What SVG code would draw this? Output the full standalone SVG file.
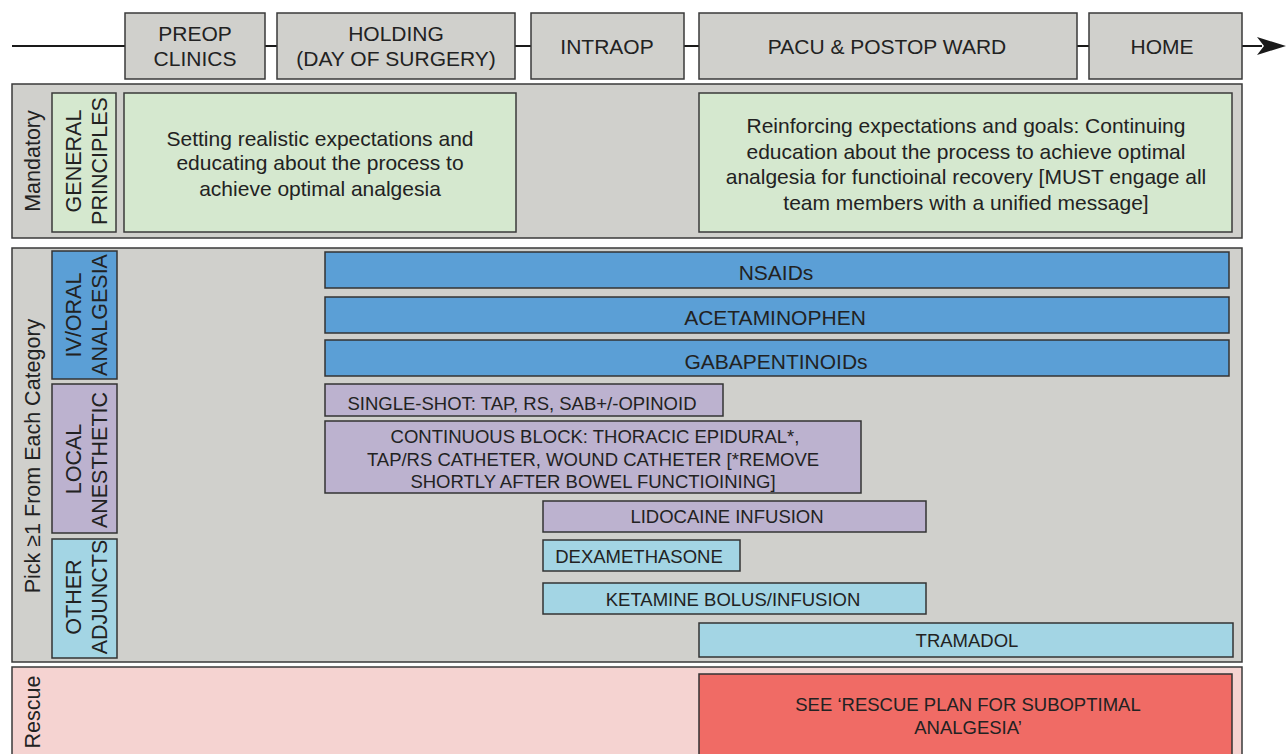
<svg xmlns="http://www.w3.org/2000/svg" width="1287" height="754" viewBox="0 0 1287 754">
<defs>
<style>
text{font-family:"Liberation Sans",Arial,sans-serif;fill:#222;text-anchor:middle}
.ph{fill:#d0d0cc;stroke:#3a3a3a;stroke-width:1.5}
.panel{fill:#d0d0cc;stroke:#3a3a3a;stroke-width:1.5}
.grn{fill:#d5e8cf;stroke:#3a3a3a;stroke-width:1.5}
.blu{fill:#5b9fd6;stroke:#333;stroke-width:1.5}
.pur{fill:#bcb2cf;stroke:#333;stroke-width:1.5}
.lbl{fill:#a3d5e4;stroke:#333;stroke-width:1.5}
.hd{font-size:21px}
.bt{font-size:21px}
.st{font-size:18.5px}
.vt{font-size:21.5px}
.side{font-size:21.5px}
</style>
</defs>
<rect width="1287" height="754" fill="#ffffff"/>
<g id="connectors">
<line x1="12" y1="46" x2="1262" y2="46" stroke="#1a1a1a" stroke-width="2"/>
<path d="M1257,37 L1286,46 L1257,55 L1264,46 z" fill="#1a1a1a"/>
</g>
<g id="preop"><rect class="ph" x="125" y="13" width="140" height="66"/><text class="hd" x="195" y="41">PREOP</text><text class="hd" x="195" y="66">CLINICS</text></g>
<g id="holding"><rect class="ph" x="277" y="13" width="238" height="66"/><text class="hd" x="396" y="41">HOLDING</text><text class="hd" x="396" y="66">(DAY OF SURGERY)</text></g>
<g id="intraop"><rect class="ph" x="531" y="13" width="153" height="66"/><text class="hd" x="607" y="54">INTRAOP</text></g>
<g id="pacu"><rect class="ph" x="699" y="13" width="378" height="66"/><text class="hd" x="887" y="54">PACU &amp; POSTOP WARD</text></g>
<g id="home"><rect class="ph" x="1089" y="13" width="153" height="66"/><text class="hd" x="1162" y="54">HOME</text></g>

<g id="mandatory">
<rect class="panel" x="12" y="84" width="1230" height="154"/>
<text class="side" transform="translate(40,161) rotate(-90)">Mandatory</text>
<rect class="grn" x="52" y="93" width="64" height="139"/>
<text class="vt" transform="translate(81,161) rotate(-90)">GENERAL</text>
<text class="vt" transform="translate(107,161) rotate(-90)">PRINCIPLES</text>
</g>
<g id="gp-pre"><rect class="grn" x="124" y="93" width="392" height="139"/>
<text class="hd" x="320" y="146">Setting realistic expectations and</text>
<text class="hd" x="320" y="170">educating about the process to</text>
<text class="hd" x="320" y="196">achieve optimal analgesia</text></g>
<g id="gp-post"><rect class="grn" x="699" y="93" width="533" height="139"/>
<text class="hd" x="966" y="133">Reinforcing expectations and goals: Continuing</text>
<text class="hd" x="966" y="159">education about the process to achieve optimal</text>
<text class="hd" x="966" y="184">analgesia for functioinal recovery [MUST engage all</text>
<text class="hd" x="966" y="210">team members with a unified message]</text></g>

<g id="pick">
<rect class="panel" x="12" y="248" width="1230" height="414"/>
<text class="side" transform="translate(40,456) rotate(-90)">Pick ≥1 From Each Category</text>
</g>
<g id="cat-iv"><rect class="blu" x="52" y="251" width="65" height="128"/>
<text class="vt" transform="translate(81,315) rotate(-90)">IV/ORAL</text>
<text class="vt" transform="translate(107,315) rotate(-90)">ANALGESIA</text></g>
<g id="cat-local"><rect class="pur" x="52" y="384" width="65" height="149"/>
<text class="vt" transform="translate(81,459) rotate(-90)">LOCAL</text>
<text class="vt" transform="translate(107,460) rotate(-90)">ANESTHETIC</text></g>
<g id="cat-other"><rect class="lbl" x="52" y="539" width="65" height="119"/>
<text class="vt" transform="translate(81,597) rotate(-90)">OTHER</text>
<text class="vt" transform="translate(107,597) rotate(-90)">ADJUNCTS</text></g>

<g id="nsaids"><rect class="blu" x="325" y="252" width="904" height="36"/><text class="bt" x="776" y="280">NSAIDs</text></g>
<g id="acet"><rect class="blu" x="325" y="297" width="904" height="36"/><text class="bt" x="775" y="325">ACETAMINOPHEN</text></g>
<g id="gaba"><rect class="blu" x="325" y="340" width="904" height="36"/><text class="bt" x="776" y="369">GABAPENTINOIDs</text></g>
<g id="single"><rect class="pur" x="325" y="384" width="398" height="32"/><text class="st" x="522" y="410">SINGLE-SHOT: TAP, RS, SAB+/-OPINOID</text></g>
<g id="continuous"><rect class="pur" x="325" y="421" width="536" height="72"/>
<text class="st" x="595" y="443">CONTINUOUS BLOCK: THORACIC EPIDURAL*,</text>
<text class="st" x="593" y="466">TAP/RS CATHETER, WOUND CATHETER [*REMOVE</text>
<text class="st" x="593" y="488">SHORTLY AFTER BOWEL FUNCTIOINING]</text></g>
<g id="lido"><rect class="pur" x="543" y="501" width="383" height="31"/><text class="st" x="727" y="523">LIDOCAINE INFUSION</text></g>
<g id="dexa"><rect class="lbl" x="543" y="540" width="197" height="31"/><text class="st" x="639" y="563">DEXAMETHASONE</text></g>
<g id="ketamine"><rect class="lbl" x="543" y="583" width="383" height="31"/><text class="st" x="733" y="606">KETAMINE BOLUS/INFUSION</text></g>
<g id="tramadol"><rect class="lbl" x="699" y="623" width="534" height="34"/><text class="st" x="967" y="647">TRAMADOL</text></g>

<g id="rescue">
<rect x="12" y="667" width="1230" height="100" fill="#f5d3d1" stroke="#3a3a3a" stroke-width="1.5"/>
<text class="side" transform="translate(40,712) rotate(-90)">Rescue</text>
</g>
<g id="rescue-plan"><rect x="699" y="674" width="533" height="100" fill="#f06b65" stroke="#333" stroke-width="1.5"/>
<text class="st" x="968" y="711">SEE ‘RESCUE PLAN FOR SUBOPTIMAL</text>
<text class="st" x="968" y="734">ANALGESIA’</text></g>
</svg>
